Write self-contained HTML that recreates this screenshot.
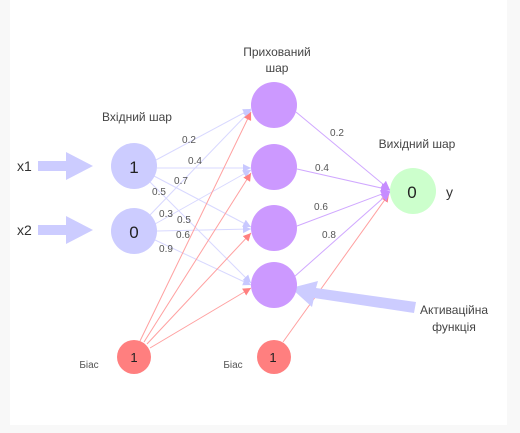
<!DOCTYPE html>
<html><head><meta charset="utf-8"><style>
body{margin:0;background:#f8f8f8;}
svg{display:block;font-family:"Liberation Sans",sans-serif;}
</style></head><body>
<svg width="520" height="433" viewBox="0 0 520 433">
<defs>
<marker id="mb" markerWidth="8" markerHeight="8" refX="8" refY="4" orient="auto" markerUnits="userSpaceOnUse"><path d="M0,0 L8,4 L0,8 Z" fill="#c8c8ff"/></marker>
<marker id="mr" markerWidth="8" markerHeight="8" refX="8" refY="4" orient="auto" markerUnits="userSpaceOnUse"><path d="M0,0 L8,4 L0,8 Z" fill="#ff8080"/></marker>
<marker id="mp" markerWidth="9" markerHeight="9" refX="9" refY="4.5" orient="auto" markerUnits="userSpaceOnUse"><path d="M0,0 L9,4.5 L0,9 Z" fill="#c68cff"/></marker>
</defs>
<rect x="10" y="0" width="497" height="425" fill="#fff"/>
<g stroke="#d8d8ff" stroke-width="1" marker-end="url(#mb)">
<line x1="156" y1="160" x2="251" y2="109"/>
<line x1="157" y1="168" x2="251" y2="168"/>
<line x1="154" y1="176" x2="251" y2="227"/>
<line x1="150" y1="182" x2="251" y2="283"/>
<line x1="150" y1="215" x2="251" y2="110"/>
<line x1="155" y1="224" x2="251" y2="170"/>
<line x1="157" y1="231" x2="251" y2="229"/>
<line x1="155" y1="240" x2="251" y2="285"/>
</g>
<g stroke="#ffa0a0" stroke-width="1" marker-end="url(#mr)">
<line x1="140" y1="341" x2="251" y2="112"/>
<line x1="144" y1="342" x2="251" y2="173"/>
<line x1="147" y1="344" x2="251" y2="233"/>
<line x1="150" y1="348" x2="251" y2="288"/>
<line x1="283" y1="342" x2="389" y2="194"/>
</g>
<g stroke="#d0a8ff" stroke-width="1" marker-end="url(#mp)">
<line x1="296" y1="112" x2="390" y2="190"/>
<line x1="297" y1="169" x2="390" y2="190"/>
<line x1="297" y1="226" x2="390" y2="191"/>
<line x1="294" y1="277" x2="390" y2="192"/>
</g>
<g fill="#ccccff">
<rect x="38" y="161" width="29" height="10"/><path d="M66,152 L93,166 L66,180Z"/>
<rect x="38" y="225" width="29" height="10"/><path d="M66,216 L93,230 L66,244Z"/>
<path d="M416,302 L414,313 L314,298 L312,307 L291,288 L318,281 L316,288Z"/>
</g>
<circle cx="134" cy="166" r="23" fill="#ccccff"/>
<circle cx="134" cy="231" r="23" fill="#ccccff"/>
<g fill="#cc99ff">
<circle cx="274" cy="105" r="23"/><circle cx="274" cy="167" r="23"/>
<circle cx="274" cy="228" r="23"/><circle cx="274" cy="285" r="23"/>
</g>
<circle cx="413" cy="191" r="23" fill="#ccffcc"/>
<circle cx="134" cy="357" r="17" fill="#ff7f7f"/>
<circle cx="274" cy="357" r="17" fill="#ff7f7f"/>
<g fill="#222" font-size="17" text-anchor="middle">
<text x="134" y="173">1</text><text x="134" y="238">0</text><text x="412" y="198">0</text>
</g>
<g fill="#222" font-size="13" text-anchor="middle">
<text x="134" y="362">1</text><text x="273" y="362">1</text>
</g>
<g fill="#333" font-size="14">
<text x="17" y="171">x1</text><text x="17" y="235">x2</text>
<text x="446" y="197">y</text>
</g>
<g fill="#444" font-size="12" text-anchor="middle">
<text x="137" y="121">Вхідний шар</text>
<text x="277" y="56">Прихований</text><text x="277" y="72">шар</text>
<text x="417" y="148">Вихідний шар</text>
<text x="454" y="314">Активаційна</text><text x="454" y="331">функція</text>
</g>
<g fill="#555" font-size="10" text-anchor="middle">
<text x="89" y="368">Біас</text><text x="233" y="368">Біас</text>
<text x="189" y="143">0.2</text><text x="195" y="164">0.4</text>
<text x="181" y="184">0.7</text><text x="159" y="195">0.5</text>
<text x="166" y="217">0.3</text><text x="184" y="223">0.5</text>
<text x="183" y="238">0.6</text><text x="166" y="252">0.9</text>
<text x="337" y="136">0.2</text><text x="322" y="171">0.4</text>
<text x="321" y="210">0.6</text><text x="329" y="238">0.8</text>
</g>
</svg>
</body></html>
